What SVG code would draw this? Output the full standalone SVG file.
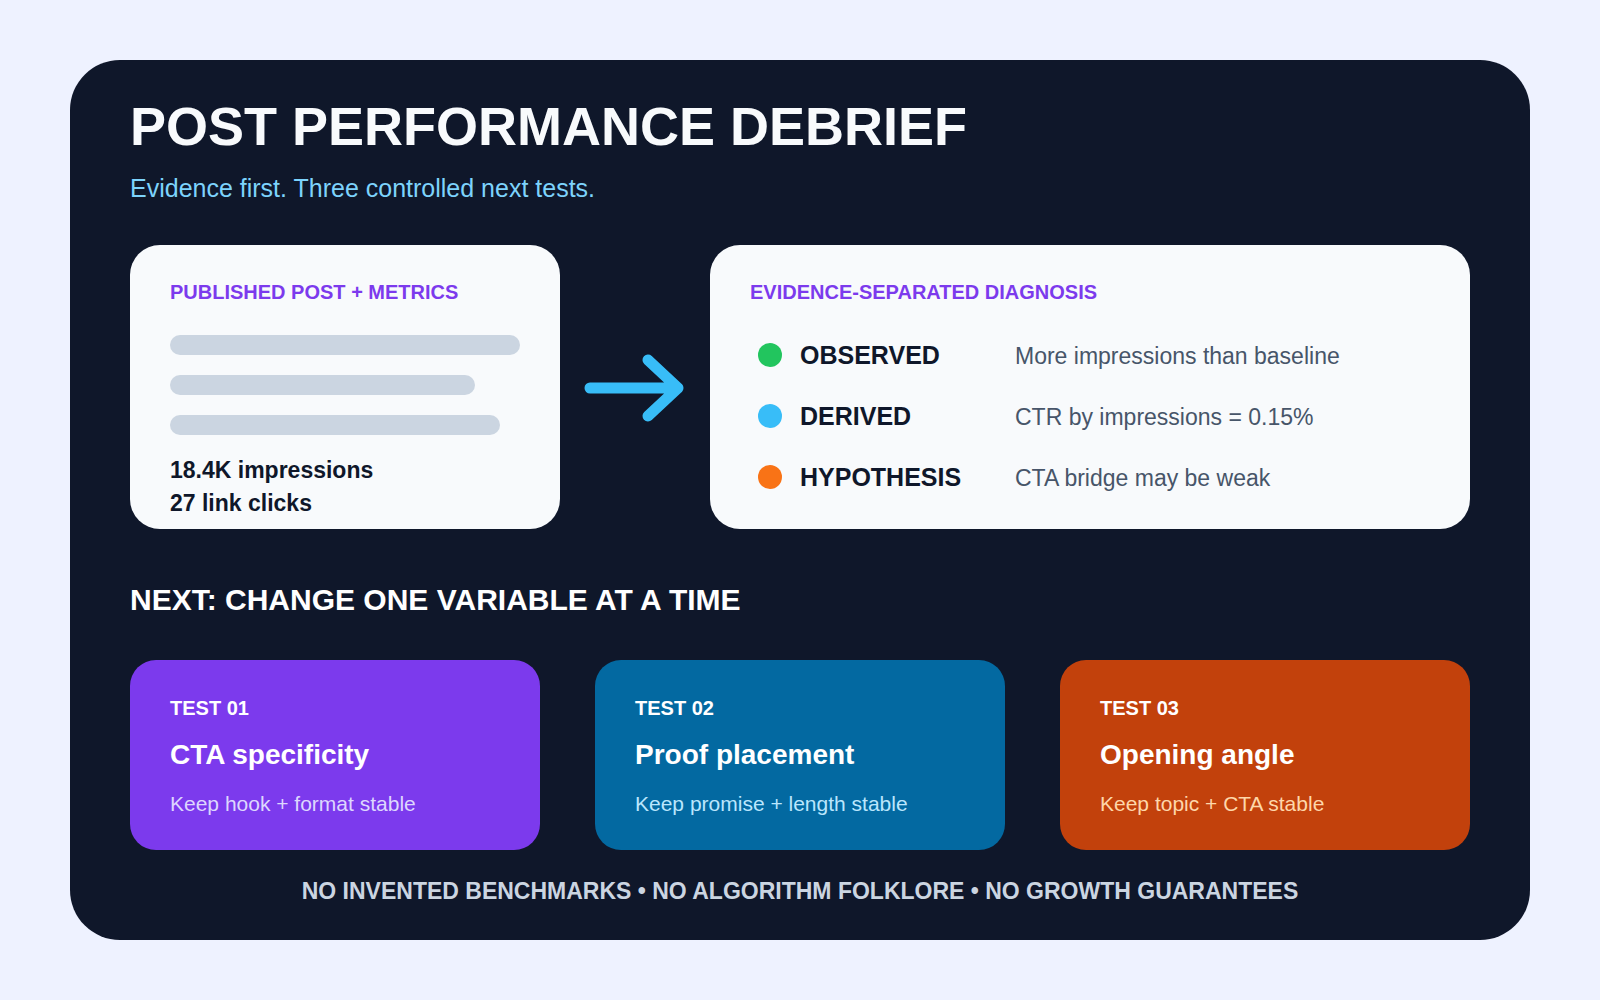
<svg xmlns="http://www.w3.org/2000/svg" width="1600" height="1000" viewBox="0 0 1600 1000">
  <defs>
    <style>
      .f { font-family: "Liberation Sans", Arial, sans-serif; }
      .b { font-weight: 700; }
      .panel { fill: #f8fafc; }
      .bar { fill: #cbd5e1; }
      .hdr { font-size: 20px; font-weight: 700; fill: #7c3aed; }
      .metric { font-size: 23px; font-weight: 700; fill: #0f172a; }
      .lbl { font-size: 25px; font-weight: 700; fill: #0f172a; }
      .desc { font-size: 23px; fill: #475569; }
      .tnum { font-size: 20px; font-weight: 700; fill: #ffffff; }
      .ttl { font-size: 28px; font-weight: 700; fill: #ffffff; }
      .tsub { font-size: 21px; }
    </style>
  </defs>
  <rect x="0" y="0" width="1600" height="1000" fill="#eef2ff"/>
  <rect x="70" y="60" width="1460" height="880" rx="50" fill="#0f172a"/>

  <text x="130" y="145" class="f b" font-size="54" fill="#f8fafc">POST PERFORMANCE DEBRIEF</text>
  <text x="130" y="197" class="f" font-size="25" fill="#7dd3fc">Evidence first. Three controlled next tests.</text>

  <g id="node-post">
    <rect x="130" y="245" width="430" height="284" rx="30" class="panel"/>
    <text x="170" y="299" class="f hdr">PUBLISHED POST + METRICS</text>
    <rect x="170" y="335" width="350" height="20" rx="10" class="bar"/>
    <rect x="170" y="375" width="305" height="20" rx="10" class="bar"/>
    <rect x="170" y="415" width="330" height="20" rx="10" class="bar"/>
    <text x="170" y="478" class="f metric">18.4K impressions</text>
    <text x="170" y="511" class="f metric">27 link clicks</text>
  </g>

  <g id="connectors">
    <path d="M590 388 H678 M648 360 L678 388 L648 416" fill="none" stroke="#38bdf8" stroke-width="11" stroke-linecap="round" stroke-linejoin="round"/>
  </g>

  <g id="node-diagnosis">
    <rect x="710" y="245" width="760" height="284" rx="30" class="panel"/>
    <text x="750" y="299" class="f hdr">EVIDENCE-SEPARATED DIAGNOSIS</text>
    <circle cx="770" cy="355" r="12" fill="#22c55e"/>
    <text x="800" y="364" class="f lbl">OBSERVED</text>
    <text x="1015" y="364" class="f desc">More impressions than baseline</text>
    <circle cx="770" cy="416" r="12" fill="#38bdf8"/>
    <text x="800" y="425" class="f lbl">DERIVED</text>
    <text x="1015" y="425" class="f desc">CTR by impressions = 0.15%</text>
    <circle cx="770" cy="477" r="12" fill="#f97316"/>
    <text x="800" y="486" class="f lbl">HYPOTHESIS</text>
    <text x="1015" y="486" class="f desc">CTA bridge may be weak</text>
  </g>

  <text x="130" y="610" class="f b" font-size="30" fill="#ffffff">NEXT: CHANGE ONE VARIABLE AT A TIME</text>

  <g id="node-test01">
    <rect x="130" y="660" width="410" height="190" rx="26" fill="#7c3aed"/>
    <text x="170" y="715" class="f tnum">TEST 01</text>
    <text x="170" y="764" class="f ttl">CTA specificity</text>
    <text x="170" y="811" class="f tsub" fill="#ddd6fe">Keep hook + format stable</text>
  </g>
  <g id="node-test02">
    <rect x="595" y="660" width="410" height="190" rx="26" fill="#0369a1"/>
    <text x="635" y="715" class="f tnum">TEST 02</text>
    <text x="635" y="764" class="f ttl">Proof placement</text>
    <text x="635" y="811" class="f tsub" fill="#bae6fd">Keep promise + length stable</text>
  </g>
  <g id="node-test03">
    <rect x="1060" y="660" width="410" height="190" rx="26" fill="#c2410c"/>
    <text x="1100" y="715" class="f tnum">TEST 03</text>
    <text x="1100" y="764" class="f ttl">Opening angle</text>
    <text x="1100" y="811" class="f tsub" fill="#fed7aa">Keep topic + CTA stable</text>
  </g>

  <text x="800" y="899" class="f b" font-size="23" fill="#cbd5e1" text-anchor="middle">NO INVENTED BENCHMARKS • NO ALGORITHM FOLKLORE • NO GROWTH GUARANTEES</text>
</svg>
